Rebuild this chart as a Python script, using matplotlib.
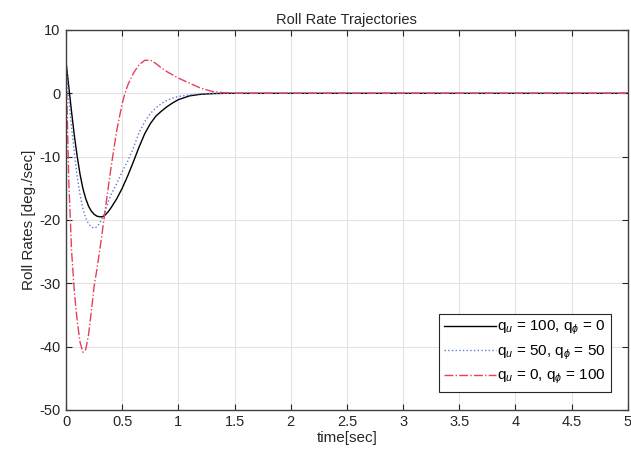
import matplotlib
matplotlib.use("Agg")
import matplotlib.pyplot as plt

plt.rcParams['font.family'] = ['Liberation Sans', 'DejaVu Sans']
plt.rcParams['mathtext.fontset'] = 'custom'
plt.rcParams['mathtext.rm'] = 'Liberation Sans'
plt.rcParams['mathtext.it'] = 'Liberation Sans:italic'
plt.rcParams['axes.unicode_minus'] = False

time = [0, 0.025, 0.05, 0.075, 0.1, 0.125, 0.15, 0.175, 0.2, 0.225, 0.25, 0.275,
        0.3, 0.325, 0.35, 0.375, 0.4, 0.45, 0.5, 0.525, 0.55, 0.6, 0.65, 0.7, 0.75,
        0.8, 0.85, 0.9, 0.95, 1.0, 1.1, 1.2, 1.3, 1.4, 1.5, 2, 3, 4, 5]

rate_qu100 = [5, 1.0, -3.0, -6.8, -10.0, -12.8, -15.0, -16.6, -17.8, -18.6, -19.1, -19.4,
              -19.5, -19.5, -19.2, -18.7, -18.1, -16.7, -15.0, -14.0, -13.0, -10.8, -8.5, -6.4, -4.8,
              -3.6, -2.8, -2.1, -1.5, -1.0, -0.4, -0.15, -0.05, 0, 0, 0, 0, 0, 0]

rate_qu50 = [5, -1.0, -5.5, -9.5, -13.2, -16.0, -18.2, -19.7, -20.6, -21.1, -21.3, -21.1,
             -20.5, -19.6, -18.5, -17.2, -16.0, -14.3, -12.4, -11.5, -10.7, -8.6, -6.2, -4.5, -3.2,
             -2.3, -1.6, -1.1, -0.75, -0.5, -0.25, -0.08, 0, 0, 0, 0, 0, 0, 0]

rate_qu0 = [5, -14, -25, -31.5, -36, -39.3, -40.9, -40.5, -38.2, -34.5, -30.5, -27.8,
            -24.8, -21.6, -18.3, -15.0, -11.8, -6.0, -1.6, 0.0, 1.3, 3.2, 4.5, 5.2, 5.25,
            4.7, 4.0, 3.4, 2.9, 2.4, 1.6, 0.8, 0.3, 0.1, 0, 0, 0, 0, 0]

labels = [r'q$_u$ = 100, q$_\phi$ = 0',
          r'q$_u$ = 50, q$_\phi$ = 50',
          r'q$_u$ = 0, q$_\phi$ = 100']

xticks = [0, 0.5, 1, 1.5, 2, 2.5, 3, 3.5, 4, 4.5, 5]
xticklabels = ['0', '0.5', '1', '1.5', '2', '2.5', '3', '3.5', '4', '4.5', '5']
yticks = [-50, -40, -30, -20, -10, 0, 10]

fig = plt.figure(figsize=(6.31, 4.58), dpi=100)
ax = fig.add_axes([0.1046, 0.105, 0.8904, 0.8295])

ax.plot(time, rate_qu100, color='black', lw=1.0, ls='-', label=labels[0])
ax.plot(time, rate_qu50, color='#6078d8', lw=1.0, ls=':', label=labels[1])
ax.plot(time, rate_qu0, color='#e4405a', lw=1.0, ls='-.', label=labels[2])

ax.set_xlim(0, 5)
ax.set_ylim(-50, 10)
ax.set_xticks(xticks)
ax.set_xticklabels(xticklabels)
ax.set_yticks(yticks)
ax.grid(True, color='#e3e3e3', lw=0.8)
ax.set_axisbelow(True)
for s in ax.spines.values():
    s.set_color('#404040')
    s.set_linewidth(1.0)
ax.tick_params(direction='in', top=True, right=True, colors='#262626',
               labelsize=10.5, length=4, pad=4)

ax.set_title('Roll Rate Trajectories', fontsize=10.5, color='#262626', pad=4)
ax.set_xlabel('time[sec]', fontsize=11, color='#262626', labelpad=1)
ax.set_ylabel('Roll Rates [deg./sec]', fontsize=11, color='#262626', labelpad=2)

leg = ax.legend(loc='lower right', fontsize=11, handlelength=3.4, handletextpad=0.1,
                borderpad=0.35, labelspacing=0.4, fancybox=False, framealpha=1,
                edgecolor='#262626', bbox_to_anchor=(0.984, 0.028))
leg.get_frame().set_linewidth(0.8)

fig.savefig('out.png', dpi=100)
